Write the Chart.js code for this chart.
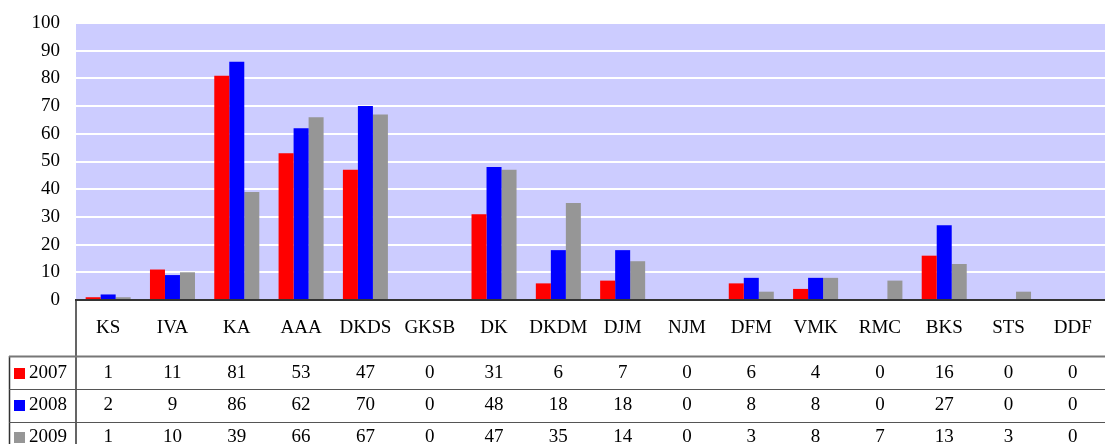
<!DOCTYPE html>
<html>
<head>
<meta charset="utf-8">
<script src="https://cdn.jsdelivr.net/npm/chart.js@4"></script>
<style>
  html, body { margin: 0; padding: 0; background: #fff; }
  #wrap { width: 1105px; height: 444px; position: relative; }
</style>
</head>
<body>
<div id="wrap"><canvas id="chart"></canvas></div>
<script>
const categories = ["KS", "IVA", "KA", "AAA", "DKDS", "GKSB", "DK", "DKDM", "DJM", "NJM", "DFM", "VMK", "RMC", "BKS", "STS", "DDF"];
const seriesNames = ["2007", "2008", "2009"];
const values2007 = [1, 11, 81, 53, 47, 0, 31, 6, 7, 0, 6, 4, 0, 16, 0, 0];
const values2008 = [2, 9, 86, 62, 70, 0, 48, 18, 18, 0, 8, 8, 0, 27, 0, 0];
const values2009 = [1, 10, 39, 66, 67, 0, 47, 35, 14, 0, 3, 8, 7, 13, 3, 0];
const seriesColors = ["#ff0000", "#0000ff", "#969696"];

const FAMILY = "'Liberation Serif', 'Times New Roman', serif";
const FONT = "19px " + FAMILY;

// plot background + data table under the axis
const tablePlugin = {
  id: "dataTable",
  beforeDraw(chart) {
    const { ctx, chartArea: a } = chart;
    ctx.save();
    ctx.fillStyle = "#ccccff";
    ctx.fillRect(a.left, a.top, a.right - a.left, a.bottom - a.top);
    ctx.restore();
  },
  afterDraw(chart) {
    const { ctx, chartArea: a } = chart;
    const x = chart.scales.x;
    const rows = [values2007, values2008, values2009];
    const rowY = [373, 405, 437];
    ctx.save();
    // lines
    ctx.strokeStyle = "#333";
    ctx.lineWidth = 1.5;
    ctx.beginPath();
    ctx.moveTo(a.left, a.bottom);
    ctx.lineTo(a.left, 444);
    ctx.moveTo(9.5, 356);
    ctx.lineTo(9.5, 444);
    ctx.stroke();
    ctx.strokeStyle = "#777";
    ctx.lineWidth = 2;
    ctx.beginPath();
    ctx.moveTo(9, 356.5);
    ctx.lineTo(1105, 356.5);
    ctx.stroke();
    ctx.strokeStyle = "#555";
    ctx.lineWidth = 1;
    ctx.beginPath();
    [389.5, 422.5].forEach((y) => { ctx.moveTo(9, y); ctx.lineTo(1105, y); });
    ctx.stroke();
    // text
    ctx.font = FONT;
    ctx.fillStyle = "#000";
    ctx.textAlign = "center";
    ctx.textBaseline = "middle";
    categories.forEach((c, i) => ctx.fillText(c, x.getPixelForValue(i), 328));
    rows.forEach((r, j) => {
      r.forEach((v, i) => ctx.fillText(String(v), x.getPixelForValue(i), rowY[j]));
      ctx.fillStyle = seriesColors[j];
      ctx.fillRect(14, rowY[j] - 5, 11, 11);
      ctx.fillStyle = "#000";
      ctx.textAlign = "left";
      ctx.fillText(seriesNames[j], 29, rowY[j]);
      ctx.textAlign = "center";
    });
    ctx.restore();
  },
};

new Chart(document.getElementById("chart"), {
  type: "bar",
  data: {
    labels: categories,
    datasets: [values2007, values2008, values2009].map((d, i) => ({
      label: seriesNames[i],
      data: d,
      backgroundColor: seriesColors[i],
      borderWidth: 0,
      categoryPercentage: 0.7,
      barPercentage: 1.0,
    })),
  },
  options: {
    responsive: true,
    maintainAspectRatio: false,
    animation: false,
    layout: { padding: { top: 23, bottom: 144, left: 0, right: 0 } },
    plugins: { legend: { display: false }, tooltip: { enabled: false } },
    scales: {
      x: {
        ticks: { display: false },
        grid: { display: false, drawTicks: false },
        border: { display: true, color: "#333", width: 2 },
      },
      y: {
        min: 0,
        max: 100,
        afterFit: (s) => { s.width = 76; },
        ticks: { stepSize: 10, padding: 2, color: "#000", font: { family: FAMILY, size: 19 } },
        grid: { color: "#ffffff", lineWidth: 2, drawTicks: true, tickLength: 14, tickColor: "rgba(0,0,0,0)" },
        border: { display: false },
      },
    },
  },
  plugins: [tablePlugin],
});
</script>
</body>
</html>
